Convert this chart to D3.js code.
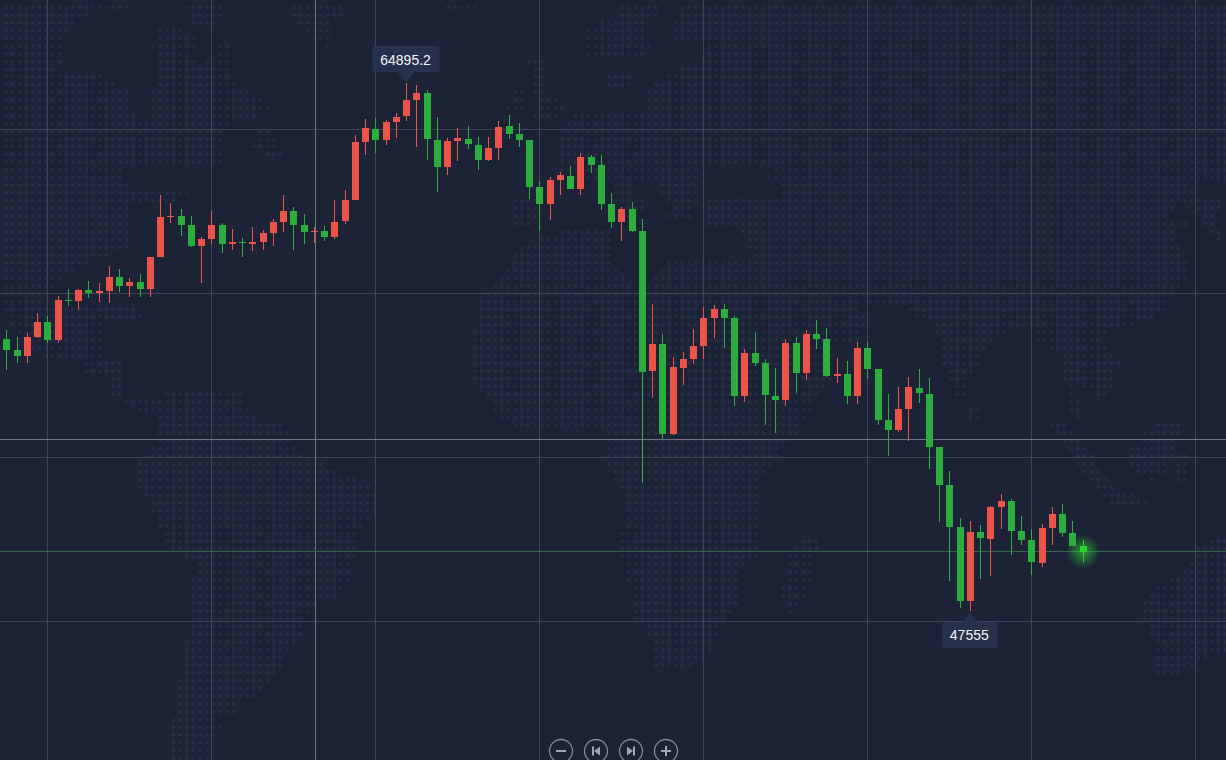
<!DOCTYPE html>
<html>
<head>
<meta charset="utf-8">
<script src="https://cdn.jsdelivr.net/npm/d3@7"></script>
<style>
  html, body { margin: 0; padding: 0; background: #1c2337; overflow: hidden; }
  svg { display: block; }
  text { font-family: "Liberation Sans", Arial, sans-serif; }
</style>
</head>
<body>
<svg width="1226" height="760"></svg>
<script>
// candle values
var opens = [56487,56126,55929,56553,57046,56454,57768,57735,58096,57998,58064,58523,58228,58359,58129,59180,60494,60527,60231,59541,59771,60231,59607,59673,59607,59673,59968,60329,60691,60231,60001,60034,59837,60362,61052,62957,63384,63022,63613,63811,64336,64566,63022,62136,62990,63055,62858,62366,62760,63482,63219,63022,61479,60921,61709,61840,61413,62464,62201,60921,60329,60756,60034,55436,56323,53367,55535,55830,56257,57177,57473,57177,54615,56027,55699,54615,54484,56356,55370,56651,56487,55272,55338,54615,56192,55502,53827,53499,54189,54878,54681,52941,51693,50313,47883,50149,49919,50970,51168,50182,49887,49131,50281,50740,50116,49689];
var closes = [56126,55929,56553,57046,56454,57768,57735,58096,57998,58064,58523,58228,58359,58129,59180,60494,60527,60231,59541,59771,60231,59607,59673,59640,59673,59968,60329,60691,60231,60001,60034,59837,60329,61052,62957,63416,63022,63613,63778,64336,64566,63055,62136,62990,63088,62891,62366,62760,63449,63219,63022,61479,60921,61709,61873,61413,62464,62201,60921,60329,60756,60034,55403,56323,53367,55568,55830,56257,57177,57473,57177,54615,56027,55699,54648,54484,56356,55370,56651,56487,55272,55338,54615,56192,55502,53827,53499,54189,54911,54714,52941,51693,50313,47883,50149,49952,50970,51167,50182,49887,49164,50281,50740,50116,49689,49492];
var highs = [56783,56553,56684,57341,57243,57899,58129,58129,58392,58326,58885,58786,58491,58622,59180,61216,60954,60756,60527,59837,60691,60297,60100,59804,60165,60067,60428,61216,60822,60592,60165,60198,61052,61380,63187,63712,63745,63679,63909,64895.2,64829,64664,63778,63088,63416,63482,63121,63121,63646,63843,63581,63022,61676,61807,61971,62169,62595,62530,62530,61282,60822,60986,60428,57637,56651,55896,56060,56816,57538,57604,57637,57243,56159,56684,55830,55535,56487,56553,56783,57111,56848,55863,55765,56388,56388,55502,54681,54911,55239,55502,55206,52941,52152,50609,50511,50379,51003,51397,51233,50675,50248,50412,50970,51069,50511,49887];
var lows = [55469,55699,55699,56520,56356,56356,57571,57440,57834,57702,57670,58031,57867,57867,57867,59180,60297,59870,59509,58326,59607,59312,59410,59180,59377,59410,59541,60001,59410,59607,59640,59706,59771,60264,61052,62530,62595,62858,63088,63646,62793,62366,61315,61873,62333,62727,62037,62333,62366,63055,62793,61085,60034,60395,61216,61413,61216,61939,60724,60133,59706,60001,51758,54550,53203,53335,54977,55666,55830,56520,56192,54287,54418,55600,53663,53400,54287,54714,55141,56159,55239,55042,54353,54353,55173,53663,52645,53433,53138,54386,52218,50478,48540,47653,47555,48605,48704,50248,49394,49722,48737,49000,49722,49985,49689,49164];

// grid and markers
var gridIndex = [4,20,36,52,68,84,100,116];
var gridPrices = [63367,57981,52596,47210];
var crosshairIndex = 30.15;
var crosshairPrice = 53187;
var lastPrice = 49509;
var maxPrice = 64895.2;
var minPrice = 47555;

// rough outlines of the dotted world map behind the chart
var land = [
  [[0,0],[133,0],[133,9],[87,15],[78,24],[70,32],[65,40],[62,55],[57,70],[57,76],[100,76],[115,85],[128,93],[135,117],[193,123],[227,130],[218,142],[222,162],[122,168],[122,178],[133,178],[133,192],[187,192],[187,200],[133,205],[133,245],[90,263],[60,278],[47,293],[45,305],[133,305],[143,317],[104,322],[104,357],[122,364],[122,398],[112,398],[108,378],[85,374],[80,362],[43,357],[23,342],[10,322],[4,308],[0,305]],
  [[185,3],[222,3],[222,18],[208,27],[193,25],[185,12]],
  [[158,28],[182,28],[195,38],[192,60],[200,62],[213,60],[213,68],[232,68],[235,88],[253,92],[268,105],[268,112],[255,118],[232,122],[225,133],[153,133],[153,108],[148,92],[160,80],[160,60],[152,50]],
  [[218,42],[230,42],[230,70],[215,70]],
  [[258,125],[272,125],[278,150],[285,160],[278,160],[252,150]],
  [[293,0],[342,0],[342,18],[330,22],[335,42],[325,48],[312,38],[303,25],[293,18]],
  [[165,392],[240,392],[247,408],[253,416],[280,423],[287,431],[293,439],[300,454],[320,462],[333,470],[353,477],[367,485],[375,493],[375,511],[367,520],[363,528],[355,536],[355,557],[349,565],[349,580],[342,590],[335,598],[315,605],[307,613],[302,619],[302,636],[295,644],[289,651],[282,667],[275,675],[262,690],[255,698],[235,706],[235,714],[215,721],[228,729],[215,737],[209,760],[171,760],[171,727],[178,688],[185,649],[191,619],[191,580],[198,570],[191,560],[185,557],[171,548],[165,541],[158,526],[151,511],[145,495],[136,487],[136,464],[145,456],[151,448],[156,441],[156,418],[138,412],[123,404],[125,400],[161,402]],
  [[560,230],[610,230],[612,260],[620,272],[630,280],[640,293],[650,285],[657,272],[663,262],[800,262],[820,300],[832,330],[835,345],[830,380],[820,397],[810,410],[803,425],[797,438],[783,448],[775,460],[767,472],[760,482],[762,495],[757,511],[763,520],[763,541],[757,557],[743,565],[737,582],[737,603],[730,611],[723,622],[717,640],[710,649],[697,665],[653,668],[653,649],[647,630],[633,619],[633,590],[627,580],[620,557],[620,541],[627,518],[627,500],[620,487],[613,479],[607,464],[607,433],[587,425],[545,428],[510,425],[495,412],[490,400],[478,385],[470,370],[473,340],[480,300],[493,287],[507,272],[513,257],[522,246]],
  [[677,0],[1226,0],[1226,180],[1190,185],[1197,193],[1185,202],[1173,208],[1167,217],[1187,224],[1173,232],[1180,248],[1187,263],[1187,278],[1180,286],[1173,294],[1167,309],[1153,317],[1133,325],[1107,333],[1100,341],[1107,348],[1113,356],[1120,364],[1113,379],[1120,390],[1103,398],[1090,390],[1063,380],[1063,350],[1050,348],[1037,340],[1037,325],[1007,325],[1008,333],[993,342],[985,350],[982,360],[973,368],[967,382],[965,398],[955,402],[952,385],[945,372],[938,345],[935,325],[917,317],[910,309],[903,302],[892,307],[875,307],[857,296],[865,317],[863,330],[858,345],[838,345],[832,330],[820,305],[800,262],[757,262],[743,248],[743,232],[703,225],[703,198],[775,198],[780,185],[762,175],[777,166],[703,166],[700,180],[560,178],[560,132],[567,123],[580,108],[645,108],[643,88],[665,82],[668,72],[690,65],[703,60],[703,45],[670,40],[670,25],[677,15]],
  [[617,3],[660,3],[660,18],[640,25],[650,45],[640,58],[632,60],[588,55],[588,30],[600,20],[617,18]],
  [[603,72],[632,72],[632,90],[603,90]],
  [[527,58],[545,58],[545,90],[552,95],[565,103],[565,112],[558,120],[533,120],[538,100],[532,85],[532,75]],
  [[510,90],[528,90],[525,112],[508,112]],
  [[512,197],[538,197],[538,220],[525,228],[512,226]],
  [[445,0],[480,0],[478,12],[445,12]],
  [[610,183],[632,183],[632,198],[645,198],[645,210],[638,220],[620,220],[620,205],[610,200]],
  [[662,183],[702,183],[700,197],[690,222],[668,220],[670,205],[662,198]],
  [[1067,385],[1073,385],[1082,415],[1076,420],[1070,410]],
  [[1048,423],[1062,423],[1090,448],[1097,470],[1107,482],[1122,492],[1150,500],[1150,507],[1115,507],[1100,495],[1085,478],[1075,463],[1068,448],[1055,438]],
  [[1160,423],[1182,423],[1175,445],[1170,470],[1152,480],[1133,472],[1125,448],[1142,440],[1145,432]],
  [[1178,455],[1190,455],[1190,480],[1178,480]],
  [[968,408],[980,408],[980,420],[968,420]],
  [[1190,198],[1222,198],[1222,206],[1215,220],[1222,240],[1215,244],[1203,222],[1205,212],[1190,206]],
  [[800,540],[820,540],[812,575],[805,592],[800,610],[785,612],[781,588],[790,578],[788,555]],
  [[1210,538],[1226,538],[1226,650],[1220,652],[1207,660],[1193,668],[1172,676],[1155,676],[1155,640],[1147,632],[1142,605],[1157,587],[1170,578],[1185,570],[1197,548]]
];

var width = 1226, height = 760;
var upColor = "#ec5449", downColor = "#2bae3c", liveColor = "#2fd02f";

var x = d3.scaleLinear().domain([0, 105]).range([6.3, 1082.55]);
var y = d3.scaleLinear().domain([minPrice, maxPrice]).range([611, 83]);

var svg = d3.select("svg");

svg.append("rect").attr("width", width).attr("height", height).attr("fill", "#1c2337");

// gradient for the pulse on the live candle
var glow = svg.append("defs").append("radialGradient").attr("id", "glow");
glow.append("stop").attr("offset", "0%").attr("stop-color", liveColor).attr("stop-opacity", 0.65);
glow.append("stop").attr("offset", "40%").attr("stop-color", liveColor).attr("stop-opacity", 0.42);
glow.append("stop").attr("offset", "100%").attr("stop-color", liveColor).attr("stop-opacity", 0);

// Dotted map
var dots = [];
d3.range(0, 98).forEach(function(row){
  d3.range(0, 183).forEach(function(col){
    var p = [5.9 + col * 6.7, 7.3 + row * 7.74];
    if (land.some(function(shape){ return d3.polygonContains(shape, p); })) dots.push(p);
  });
});

svg.append("g").selectAll("circle").data(dots).enter()
  .append("circle")
  .attr("cx", function(d){ return d[0]; })
  .attr("cy", function(d){ return d[1]; })
  .attr("r", 2)
  .attr("fill", "#252d42");

// Grid lines
function snap(v){ return Math.floor(v) + 0.5; }

function vLine(index, color){
  svg.append("line")
    .attr("x1", snap(x(index))).attr("x2", snap(x(index)))
    .attr("y1", 0).attr("y2", height)
    .attr("stroke", color);
}

function hLine(price, color){
  svg.append("line")
    .attr("x1", 0).attr("x2", width)
    .attr("y1", snap(y(price))).attr("y2", snap(y(price)))
    .attr("stroke", color);
}

gridIndex.forEach(function(d){ vLine(d, "#3c4357"); });
gridPrices.forEach(function(d){ hLine(d, "#3c4357"); });
vLine(crosshairIndex, "#6f7484");
hLine(crosshairPrice, "#6f7484");
hLine(lastPrice, "#31694f");

// Glow under the last candle
svg.append("circle")
  .attr("cx", x(105) + 0.5).attr("cy", y(lastPrice))
  .attr("r", 17)
  .attr("fill", "url(#glow)");

// Candles
var candles = svg.append("g").attr("shape-rendering", "crispEdges")
  .selectAll("g").data(opens).enter().append("g");

function candleColor(d, i){
  if (i == opens.length - 1) return liveColor;
  return closes[i] > opens[i] ? upColor : downColor;
}

candles.append("rect")
  .attr("x", function(d, i){ return Math.round(x(i)); })
  .attr("y", function(d, i){ return Math.round(y(highs[i])); })
  .attr("width", 1)
  .attr("height", function(d, i){ return Math.round(y(lows[i])) - Math.round(y(highs[i])); })
  .attr("fill", candleColor);

candles.append("rect")
  .attr("x", function(d, i){ return Math.round(x(i)) - 3; })
  .attr("y", function(d, i){ return Math.round(y(Math.max(opens[i], closes[i]))); })
  .attr("width", 7)
  .attr("height", function(d, i){
    var h = Math.round(y(Math.min(opens[i], closes[i]))) - Math.round(y(Math.max(opens[i], closes[i])));
    return Math.max(h, 1);
  })
  .attr("fill", candleColor);

// Max and min labels
function priceLabel(index, price, above){
  var g = svg.append("g");
  var cx = x(index);
  var tip = above ? y(price) - 1 : y(price) + 2;
  var side = above ? -1 : 1;
  var box = g.append("rect").attr("fill", "#27314b").attr("rx", 3);
  g.append("path")
    .attr("d", d3.line()([[cx - 8.5, tip + side * 10], [cx, tip], [cx + 8.5, tip + side * 10]]))
    .attr("fill", "#27314b");
  var label = g.append("text")
    .attr("x", cx - 0.5)
    .attr("y", tip + side * (above ? 17 : 27))
    .attr("text-anchor", "middle")
    .attr("font-size", 14)
    .attr("fill", "#f2f4f8")
    .text(price);
  var w = label.node().getComputedTextLength() + 16.5;
  box.attr("x", cx - w / 2)
    .attr("y", above ? tip - 36 : tip + 9)
    .attr("width", w)
    .attr("height", 26);
}

priceLabel(39, maxPrice, true);
priceLabel(94, minPrice, false);

// Zoom and scroll buttons
var buttons = ["minus", "prev", "next", "plus"];
var icons = {
  minus: "M-5 -1H5V1H-5Z",
  plus: "M-5 -1H-1V-5H1V-1H5V1H1V5H-1V1H-5Z",
  prev: "M-4 -4.5H-2V4.5H-4ZM-2 0L4 -4.5V4.5Z",
  next: "M4 -4.5H2V4.5H4ZM2 0L-4 -4.5V4.5Z"
};
var buttonX = d3.scalePoint().domain(buttons).range([561, 666]);

var button = svg.append("g").selectAll("g").data(buttons).enter().append("g")
  .attr("transform", function(d){ return "translate(" + buttonX(d) + ",751)"; });

button.append("circle")
  .attr("r", 11.5)
  .attr("fill", "none")
  .attr("stroke", "#82879a")
  .attr("stroke-width", 1.3);

button.append("path")
  .attr("d", function(d){ return icons[d]; })
  .attr("fill", "#a2a6b2");
</script>
</body>
</html>
